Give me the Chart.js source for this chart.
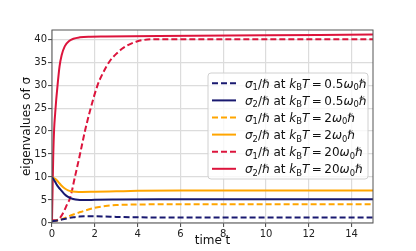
<!DOCTYPE html>
<html><head><meta charset="utf-8">
<script src="https://cdn.jsdelivr.net/npm/chart.js@4.4.0/dist/chart.umd.min.js"></script>
<style>html,body{margin:0;padding:0;background:#fff;overflow:hidden}</style>
</head><body>
<canvas id="c" width="416" height="251"></canvas>
<script>
// ---- data ----
const xTicks = [0, 2, 4, 6, 8, 10, 12, 14];
const yTicks = [0, 5, 10, 15, 20, 25, 30, 35, 40];

const tBlue1 = [0, 0.25, 0.5, 0.75, 1, 1.25, 1.5, 2, 2.5, 3, 4, 5, 6, 8, 15];
const vBlue1 = [0.4, 0.55, 0.8, 1.05, 1.25, 1.38, 1.45, 1.45, 1.4, 1.33, 1.25, 1.2, 1.18, 1.17, 1.17];

const tBlue2 = [0, 0.1, 0.2, 0.3, 0.45, 0.6, 0.75, 0.9, 1.1, 1.3, 1.6, 2, 3, 5, 15];
const vBlue2 = [10, 9.3, 8.5, 7.8, 7.0, 6.2, 5.7, 5.35, 5.1, 5.0, 5.0, 5.05, 5.1, 5.15, 5.15];

const tOrange1 = [0, 0.15, 0.25, 0.5, 0.75, 1, 1.25, 1.5, 2, 2.5, 3, 4, 5, 6, 15];
const vOrange1 = [0.4, 0.45, 0.55, 0.9, 1.4, 1.85, 2.25, 2.65, 3.3, 3.7, 3.9, 4.03, 4.07, 4.08, 4.08];

const tOrange2 = [0, 0.15, 0.3, 0.45, 0.6, 0.75, 0.9, 1.1, 1.4, 2, 3, 4, 6, 15];
const vOrange2 = [10, 9.6, 8.9, 8.1, 7.5, 7.1, 6.9, 6.8, 6.75, 6.8, 6.9, 7.0, 7.05, 7.05];

const tRed1 = [0, 0.2, 0.35, 0.5, 0.7, 0.85, 1.07, 1.31, 1.54, 1.78, 2.13, 2.4, 2.68, 3.0, 3.33, 3.96, 4.9, 6, 15];
const vRed1 = [0.6, 0.6, 1.0, 2.0, 4.0, 5.5, 10, 15, 20, 24.5, 30, 32.8, 35.1, 36.8, 38.1, 39.5, 40, 40, 40];

const tRed2 = [0, 0.03, 0.06, 0.1, 0.15, 0.2, 0.27, 0.35, 0.45, 0.6, 0.8, 1.0, 1.3, 1.7, 2.5, 5, 10, 15];
const vRed2 = [0.5, 8, 15, 20.5, 24, 27, 30.5, 34, 36.5, 38.5, 39.6, 40.1, 40.4, 40.55, 40.6, 40.7, 40.85, 41];

const sigmaIndex = ["1", "2", "1", "2", "1", "2"];
const tempLabels = ["0.5", "0.5", "2", "2", "20", "20"];
const seriesLabels = [
  "σ₁/ℏ at k_BT = 0.5ω₀ℏ", "σ₂/ℏ at k_BT = 0.5ω₀ℏ",
  "σ₁/ℏ at k_BT = 2ω₀ℏ", "σ₂/ℏ at k_BT = 2ω₀ℏ",
  "σ₁/ℏ at k_BT = 20ω₀ℏ", "σ₂/ℏ at k_BT = 20ω₀ℏ"
];
const seriesT = [tBlue1, tBlue2, tOrange1, tOrange2, tRed1, tRed2];
const seriesV = [vBlue1, vBlue2, vOrange1, vOrange2, vRed1, vRed2];
const seriesColors = ["#191970", "#191970", "#FFA500", "#FFA500", "#DC143C", "#DC143C"];
const DASH = [6, 3];

// ---- chart ----
const FONT = "'DejaVu Sans', sans-serif";
const datasets = seriesT.map((t, i) => ({
  label: seriesLabels[i],
  data: t.map((x, k) => ({x: x, y: seriesV[i][k]})),
  borderColor: seriesColors[i],
  backgroundColor: seriesColors[i],
  borderDash: sigmaIndex[i] === "1" ? DASH : [],
  borderWidth: 2,
  pointRadius: 0,
  fill: false,
  cubicInterpolationMode: 'monotone'
}));

function labelRuns(i) {
  return [
    {t: 'σ', it: 1}, {t: sigmaIndex[i], sub: 1}, {t: '/'}, {t: 'ℏ', it: 1},
    {t: ' at '}, {t: 'k', it: 1}, {t: 'B', sub: 1}, {t: 'T', it: 1},
    {t: '=', gap: 2.5}, {t: tempLabels[i]}, {t: 'ω', it: 1}, {t: '0', sub: 1}, {t: 'ℏ', it: 1}
  ];
}

const framePlugin = {
  id: 'frame',
  afterDatasetsDraw(chart) {
    const {ctx, chartArea: a} = chart;
    ctx.save();
    ctx.strokeStyle = '#555';
    ctx.lineWidth = 1;
    ctx.strokeRect(a.left, a.top, a.right - a.left, a.bottom - a.top);
    ctx.restore();

    // legend
    const bx = 208, by = 73, bw = 160, bh = 106, r = 3;
    ctx.save();
    ctx.beginPath();
    ctx.moveTo(bx + r, by);
    ctx.arcTo(bx + bw, by, bx + bw, by + bh, r);
    ctx.arcTo(bx + bw, by + bh, bx, by + bh, r);
    ctx.arcTo(bx, by + bh, bx, by, r);
    ctx.arcTo(bx, by, bx + bw, by, r);
    ctx.closePath();
    ctx.fillStyle = 'rgba(255,255,255,0.8)';
    ctx.fill();
    ctx.strokeStyle = '#d0d0d0';
    ctx.lineWidth = 1;
    ctx.stroke();
    ctx.restore();

    chart.data.datasets.forEach((ds, i) => {
      const cy = 83.3 + i * 17.1;
      ctx.save();
      ctx.strokeStyle = ds.borderColor;
      ctx.lineWidth = 2;
      ctx.setLineDash(ds.borderDash);
      ctx.beginPath();
      ctx.moveTo(212, cy);
      ctx.lineTo(236, cy);
      ctx.stroke();
      ctx.restore();

      ctx.save();
      ctx.fillStyle = '#111';
      ctx.textBaseline = 'alphabetic';
      ctx.textAlign = 'left';
      let x = 245;
      const base = cy + 4.3;
      labelRuns(i).forEach(run => {
        const size = run.sub ? 8.4 : 12;
        ctx.font = (run.it ? 'italic ' : '') + size + 'px ' + FONT;
        if (run.gap) x += run.gap;
        ctx.fillText(run.t, x, base + (run.sub ? 2.6 : 0));
        x += ctx.measureText(run.t).width;
        if (run.gap) x += run.gap;
      });
      ctx.restore();
    });
  }
};

new Chart(document.getElementById('c').getContext('2d'), {
  type: 'line',
  data: {datasets},
  options: {
    responsive: false,
    animation: false,
    devicePixelRatio: 1,
    layout: {padding: {left: 20, top: 30, right: 43, bottom: 0}},
    plugins: {legend: {display: false}, tooltip: {enabled: false}},
    scales: {
      x: {
        type: 'linear', min: 0, max: 15,
        afterBuildTicks: s => { s.ticks = xTicks.map(v => ({value: v})); },
        afterFit: s => { s.height = 28; },
        grid: {color: '#dcdcdc', lineWidth: 1.2, tickLength: 4, tickColor: '#444', tickWidth: 1},
        border: {display: false},
        ticks: {font: {family: FONT, size: 10}, color: '#222', padding: 1, maxRotation: 0, autoSkip: false},
        title: {display: true, text: 'time t', font: {family: FONT, size: 12}, color: '#111', padding: {top: 0, bottom: 3}}
      },
      y: {
        type: 'linear', min: 0, max: 42,
        afterBuildTicks: s => { s.ticks = yTicks.map(v => ({value: v})); },
        afterFit: s => { s.width = 32; },
        grid: {color: '#dcdcdc', lineWidth: 1.2, tickLength: 4, tickColor: '#444', tickWidth: 1},
        border: {display: false},
        ticks: {font: {family: FONT, size: 10}, color: '#222', padding: 1, autoSkip: false},
        title: {display: true, text: 'eigenvalues of σ', font: {family: FONT, size: 12}, color: '#111', padding: {top: 0, bottom: 0}}
      }
    }
  },
  plugins: [framePlugin]
});
</script>
</body></html>
